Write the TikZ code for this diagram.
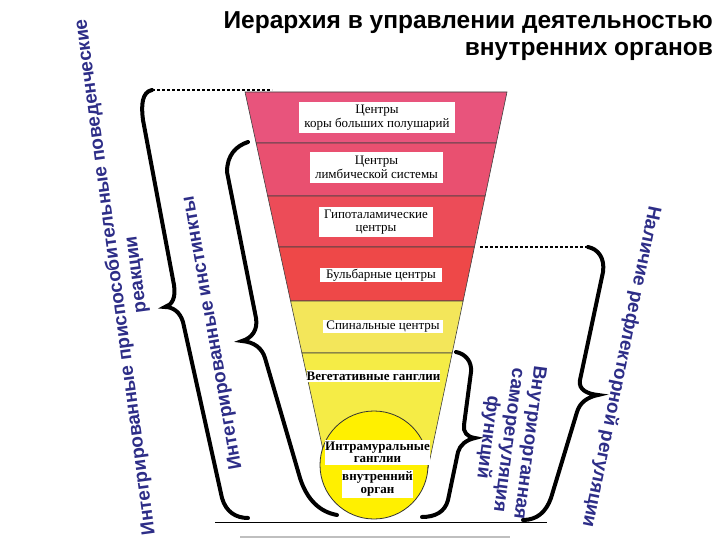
\documentclass[tikz,border=0pt]{standalone}
\usepackage{fontspec}
\setmainfont{Liberation Serif}
\newfontfamily\sansfont{Liberation Sans}
\usetikzlibrary{calc}
\definecolor{cortexpink}{RGB}{232,84,124}
\definecolor{limbicpink}{RGB}{233,80,112}
\definecolor{hypored}{RGB}{236,76,88}
\definecolor{bulbarred}{RGB}{238,72,72}
\definecolor{spinalyellow}{RGB}{243,230,90}
\definecolor{vegyellow}{RGB}{245,236,70}
\definecolor{organyellow}{RGB}{255,240,0}
\definecolor{sideblue}{RGB}{45,45,135}
\tikzset{
  levelbox/.style={fill=white,inner sep=0pt,align=center,font=\fontsize{13}{13.5}\selectfont},
  sidetext/.style={text=sideblue,align=center,font=\sansfont\bfseries\fontsize{19}{21}\selectfont},
  bracestroke/.style={line width=4pt,line cap=round},
  dotline/.style={line width=2.5pt,dash pattern=on 3pt off 2pt}
}
\begin{document}
\begin{tikzpicture}[x=1pt,y=-1pt]
  \useasboundingbox (0,0) rectangle (720,540);
  % title
  \node[anchor=north east,inner sep=0pt,align=right,font=\sansfont\bfseries\fontsize{24.5}{27}\selectfont] (title) at (713,11)
    {Иерархия в управлении деятельностью\\внутренних органов};
  % funnel
  \foreach \ya/\yb/\col in {92/143/cortexpink,143/196/limbicpink,196/247/hypored,
      247/301/bulbarred,301/353/spinalyellow,353/475/vegyellow}
    \filldraw[fill=\col,draw=black!75,line width=0.6pt]
      ({245+0.218*(\ya-92)},\ya) -- ({507-0.21*(\ya-92)},\ya)
      -- ({507-0.21*(\yb-92)},\yb) -- ({245+0.218*(\yb-92)},\yb) -- cycle;
  \filldraw[fill=organyellow,draw=black!80,line width=0.8pt] (374,465) circle [radius=54];
  % levels
  \node[levelbox,minimum width=156pt,minimum height=31pt] (cortex) at (377,117.5) {Центры\\коры больших полушарий};
  \node[levelbox,minimum width=133pt,minimum height=31pt] (limbic) at (376.5,167.5) {Центры\\лимбической системы};
  \node[levelbox,minimum width=114pt,minimum height=30pt] (hypo) at (376,222) {Гипоталамические\\центры};
  \node[levelbox,minimum width=122pt,minimum height=14pt] (bulbar) at (381,275) {Бульбарные центры};
  \node[levelbox,minimum width=120pt,minimum height=13pt] (spinal) at (383,326.5) {Спинальные центры};
  \node[levelbox,minimum width=127pt,minimum height=12pt,font=\fontsize{13}{13.5}\selectfont\bfseries] (veg) at (373.5,376) {Вегетативные ганглии};
  \node[levelbox,minimum width=99pt,minimum height=25pt,font=\fontsize{13}{12.5}\selectfont\bfseries] (intra) at (377.5,452.5) {Интрамуральные\\ганглии};
  \node[levelbox,minimum width=69pt,minimum height=28pt,font=\fontsize{13}{13.5}\selectfont\bfseries] (organ) at (377.5,484) {внутренний\\орган};
  % braces
  \draw[dotline] (152,90) -- (272,90);
  \draw[dotline] (480,247) -- (588,247);
  \draw[bracestroke] (152,90) .. controls (142,92) and (141,105) .. (143,120) -- (174,285)
    .. controls (176,298) and (172,305) .. (165,307) .. controls (173,307) and (180,312) .. (183,322)
    -- (222,498) .. controls (226,512) and (236,518) .. (248,518);
  \draw[bracestroke] (248,142) .. controls (236,146) and (227,155) .. (227,172) -- (256,318)
    .. controls (258,330) and (252,338) .. (242,341) .. controls (254,342) and (262,348) .. (265,358)
    -- (300,478) .. controls (307,500) and (320,512) .. (337,515);
  \draw[bracestroke] (456,352) .. controls (466,354) and (472,362) .. (471,372) -- (464,425)
    .. controls (463,432) and (467,437) .. (475,438) .. controls (466,440) and (460,445) .. (458,452)
    -- (448,500) .. controls (445,512) and (435,517) .. (422,517);
  \draw[bracestroke] (588,247) .. controls (598,249) and (605,258) .. (603,272) -- (580,380)
    .. controls (578,390) and (588,394) .. (598,395) .. controls (588,397) and (580,402) .. (577,412)
    -- (551,498) .. controls (546,512) and (537,520) .. (523,520);
  % side labels
  \node[sidetext,rotate=97.6] (adaptive) at (126,276) {Интегрированные приспособительные поведенческие\\реакции};
  \node[sidetext,rotate=100] (instincts) at (213,333) {Интегрированные инстинкты};
  \node[sidetext,rotate=-101.7] (reflex) at (621,367) {Наличие рефлекторной регуляции};
  \node[sidetext,rotate=-97.5] (selfreg) at (508,440) {Внутриорганная\\саморегуляция\\функций};
  % base lines
  \draw[line width=0.8pt] (215,522) -- (547,522);
  \draw[gray!50,line width=1.5pt] (240,537) -- (510,537);
\end{tikzpicture}
\end{document}
